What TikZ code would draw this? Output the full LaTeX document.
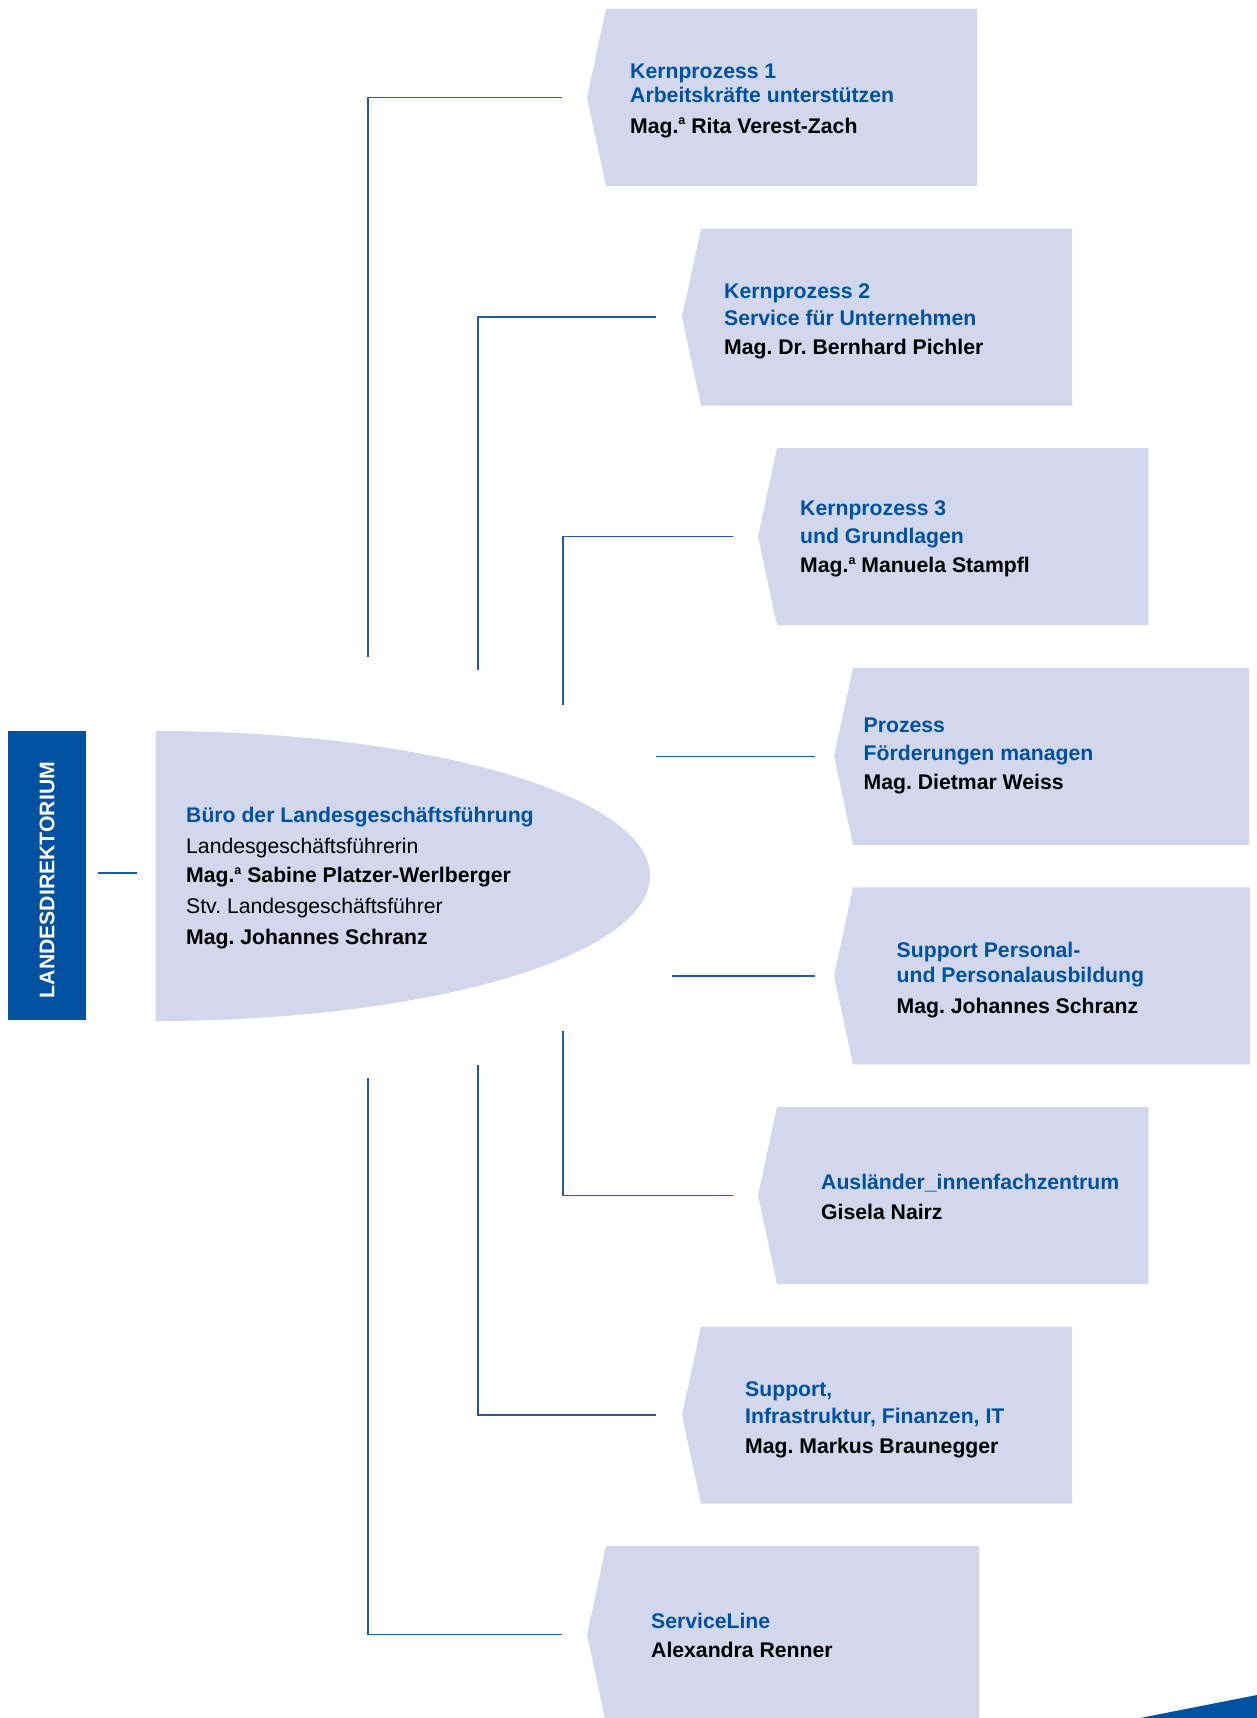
\documentclass[tikz,border=0pt]{standalone}
\usepackage{fontspec}
\setmainfont{Liberation Sans}
\definecolor{dblue}{RGB}{0,82,160}
\definecolor{lav}{RGB}{211,215,237}
\definecolor{lineblue}{RGB}{31,90,166}
\newcommand{\supa}{\raisebox{8.3pt}{\fontsize{12.5}{12.5}\selectfont a}}
\tikzset{
  ttl/.style={anchor=base west, inner sep=0pt, text=dblue, font=\bfseries\fontsize{21.2}{25}\selectfont},
  nme/.style={anchor=base west, inner sep=0pt, text=black, font=\bfseries\fontsize{21.2}{25}\selectfont},
  reg/.style={anchor=base west, inner sep=0pt, text=black, font=\fontsize{21.2}{25}\selectfont},
  conn/.style={draw=lineblue, line width=1.3pt},
  boxfill/.style={fill=lav},
}
\newcommand{\orgbox}[3]{% left x, top y, right x
  \fill[boxfill] (#1,#2) -- (#3,#2) -- (#3,#2+177) -- (#1,#2+177) -- (#1-19,#2+88.5) -- cycle;}
\frenchspacing
\begin{document}
\begin{tikzpicture}[x=1pt,y=-1pt]
\useasboundingbox (0,0) rectangle (1257,1718);
\clip (0,0) rectangle (1257,1718);

% Landesdirektorium
\fill[dblue] (7.7,731) rectangle (85.5,1020);
\node[rotate=90, text=white, font=\bfseries\fontsize{21.2}{25}\selectfont, inner sep=0pt] (ld) at (47,880) {LANDESDIREKTORIUM};
\coordinate (ldA) at (97.5,873);
\coordinate (ldB) at (137,873);
\draw[conn] (ldA) -- (ldB);

% Ellipse
\begin{scope}
  \clip (155.6,700) rectangle (700,1060);
  \fill[lav] (155.6,876) ellipse [x radius=494.4, y radius=145];
\end{scope}
\node[ttl] (e1) at (186,822) {Büro der Landesgeschäftsführung};
\node[reg] (e2) at (186,853) {Landesgeschäftsführerin};
\node[nme] (e3) at (186,882.5) {Mag.\supa\ Sabine Platzer-Werlberger};
\node[reg] (e4) at (186,913) {Stv. Landesgeschäftsführer};
\node[nme] (e5) at (186,944) {Mag. Johannes Schranz};

% Boxes
\orgbox{606}{9}{977}
\orgbox{701}{228.6}{1072}
\orgbox{777}{448.2}{1148.5}
\orgbox{853}{667.8}{1249}
\orgbox{853}{887.4}{1250}
\orgbox{777}{1107}{1148.5}
\orgbox{701}{1326.6}{1072}
\orgbox{606}{1546.2}{979}

% Box texts
\node[ttl] (b1a) at (630,79) {Kernprozess 1};
\node[ttl] (b1b) at (630,103) {Arbeitskräfte unterstützen};
\node[nme] (b1c) at (630,133) {Mag.\supa\ Rita Verest-Zach};

\node[ttl] (b2a) at (724,298.5) {Kernprozess 2};
\node[ttl] (b2b) at (724,325) {Service für Unternehmen};
\node[nme] (b2c) at (724,354.5) {Mag. Dr. Bernhard Pichler};

\node[ttl] (b3a) at (800,515.5) {Kernprozess 3};
\node[ttl] (b3b) at (800,543) {und Grundlagen};
\node[nme] (b3c) at (800,572.5) {Mag.\supa\ Manuela Stampfl};

\node[ttl] (b4a) at (863.5,732.5) {Prozess};
\node[ttl] (b4b) at (863.5,760) {Förderungen managen};
\node[nme] (b4c) at (863.5,789.5) {Mag. Dietmar Weiss};

\node[ttl] (b5a) at (896.5,957) {Support Personal-};
\node[ttl] (b5b) at (896.5,982) {und Personalausbildung};
\node[nme] (b5c) at (896.5,1013) {Mag. Johannes Schranz};

\node[ttl] (b6a) at (821,1189.5) {Ausländer\_innenfachzentrum};
\node[nme] (b6b) at (821,1219) {Gisela Nairz};

\node[ttl] (b7a) at (745,1396.5) {Support,};
\node[ttl] (b7b) at (745,1423) {Infrastruktur, Finanzen, IT};
\node[nme] (b7c) at (745,1453.5) {Mag. Markus Braunegger};

\node[ttl] (b8a) at (651,1628) {ServiceLine};
\node[nme] (b8b) at (651,1657) {Alexandra Renner};

% Connector coordinates
\coordinate (c1s) at (368,656.5);  \coordinate (c1e) at (562,97.5);
\coordinate (c2s) at (478,669.6);  \coordinate (c2e) at (656,317.1);
\coordinate (c3s) at (563,704.7);  \coordinate (c3e) at (733,536.7);
\coordinate (c4s) at (656,756.3);  \coordinate (c4e) at (815,756.3);
\coordinate (c5s) at (672,975.9);  \coordinate (c5e) at (815,975.9);
\coordinate (c6s) at (563,1031);   \coordinate (c6e) at (733,1195.5);
\coordinate (c7s) at (478,1065);   \coordinate (c7e) at (656,1415.1);
\coordinate (c8s) at (368,1078);   \coordinate (c8e) at (562,1634.7);

\draw[conn] (c1s) |- (c1e);
\draw[conn] (c2s) |- (c2e);
\draw[conn] (c3s) |- (c3e);
\draw[conn] (c4s) -- (c4e);
\draw[conn] (c5s) -- (c5e);
\draw[conn] (c6s) |- (c6e);
\draw[conn] (c7s) |- (c7e);
\draw[conn] (c8s) |- (c8e);

% corner swoosh
\fill[dblue] (1140,1718) -- (1257,1695) -- (1257,1718) -- cycle;
\end{tikzpicture}
\end{document}
